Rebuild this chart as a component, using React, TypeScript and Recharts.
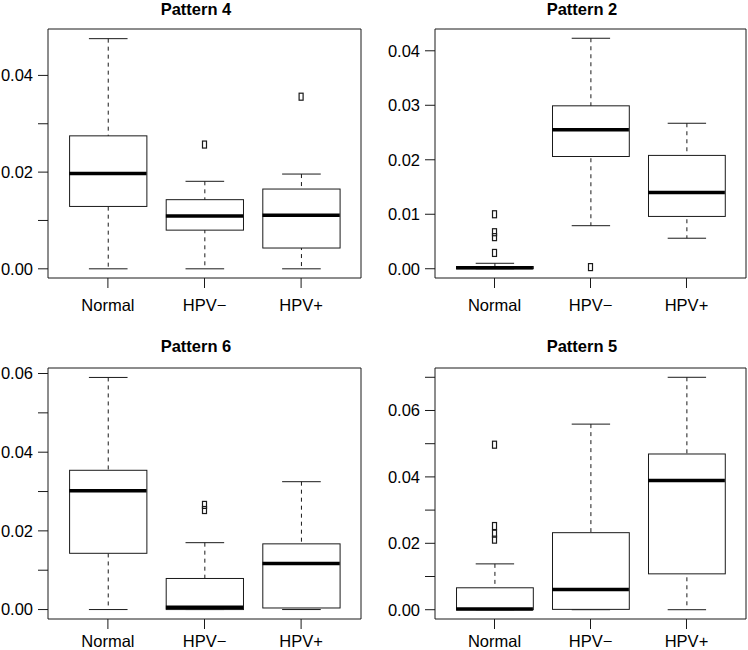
import React from "react";
import { ComposedChart, Bar, Scatter, XAxis, YAxis } from "recharts";

const groups = ["Normal", "HPV\u2212", "HPV+"];

// per group: [lower whisker, Q1, median, Q3, upper whisker]
const p4Stats = [
  [0, 0.0129, 0.0197, 0.0275, 0.0476],
  [0, 0.008, 0.0109, 0.0143, 0.0181],
  [0, 0.0043, 0.0111, 0.0165, 0.0196],
];
const p4Outliers = [[], [0.0257], [0.0356]];
const p4Ticks = [0, 0.01, 0.02, 0.03, 0.04];
const p4Labels = ["0.00", "", "0.02", "", "0.04"];
const p4Domain: [number, number] = [-0.0019, 0.0496];

const p2Stats = [
  [0, 0, 0.0002, 0.0004, 0.001],
  [0.0079, 0.0206, 0.0255, 0.0299, 0.0423],
  [0.0056, 0.0096, 0.014, 0.0208, 0.0267],
];
const p2Outliers = [[0.01, 0.0067, 0.0058, 0.0029], [0.0003], []];
const p2Ticks = [0, 0.01, 0.02, 0.03, 0.04];
const p2Labels = ["0.00", "0.01", "0.02", "0.03", "0.04"];
const p2Domain: [number, number] = [-0.0017, 0.044];

const p6Stats = [
  [0, 0.0143, 0.0302, 0.0354, 0.059],
  [0, 0, 0.0006, 0.0079, 0.017],
  [0, 0.0004, 0.0117, 0.0167, 0.0325],
];
const p6Outliers = [[], [0.0266, 0.0253], []];
const p6Ticks = [0, 0.01, 0.02, 0.03, 0.04, 0.05, 0.06];
const p6Labels = ["0.00", "", "0.02", "", "0.04", "", "0.06"];
const p6Domain: [number, number] = [-0.0024, 0.0614];

const p5Stats = [
  [0, 0, 0.0002, 0.0066, 0.0138],
  [0, 0.0001, 0.0061, 0.0232, 0.0559],
  [0, 0.0108, 0.0389, 0.0469, 0.07],
];
const p5Outliers = [[0.0497, 0.0252, 0.0229, 0.0211], [], []];
const p5Ticks = [0, 0.01, 0.02, 0.03, 0.04, 0.05, 0.06, 0.07];
const p5Labels = ["0.00", "", "0.02", "", "0.04", "", "0.06", ""];
const p5Domain: [number, number] = [-0.0028, 0.0728];

const FONT = "'Liberation Sans', Arial, Helvetica, sans-serif";
const INK = "#1a1a1a";
const OUT_KEYS = ["o0", "o1", "o2", "o3"];

type Row = { name: string; [k: string]: any };

function buildRows(stats: number[][], outliers: number[][]): Row[] {
  return groups.map((name, i) => {
    const [lo, q1, med, q3, hi] = stats[i];
    const row: Row = { name, lo, q1, med, q3, hi };
    outliers[i].forEach((v, j) => {
      row[OUT_KEYS[j]] = v;
    });
    return row;
  });
}

const WhiskerShape = (props: any) => {
  const { x, y, width, height } = props;
  const top = height < 0 ? y + height : y;
  const h = Math.abs(height);
  const cx = x + width / 2;
  const cap = width / 4;
  return (
    <g stroke={INK} strokeWidth={1}>
      <line x1={cx} x2={cx} y1={top} y2={top + h} strokeDasharray="4 4" />
      <line x1={cx - cap} x2={cx + cap} y1={top} y2={top} />
      <line x1={cx - cap} x2={cx + cap} y1={top + h} y2={top + h} />
    </g>
  );
};

const BoxShape = (props: any) => {
  const { x, y, width, height } = props;
  const top = height < 0 ? y + height : y;
  return <rect x={x} y={top} width={width} height={Math.abs(height)} fill="#fff" stroke={INK} strokeWidth={1} />;
};

const medianShape = (half: number) => (props: any) => {
  const { cx, cy } = props;
  if (typeof cy !== "number" || isNaN(cy)) return <g />;
  return <line x1={cx - half} x2={cx + half} y1={cy} y2={cy} stroke="#000" strokeWidth={3.5} />;
};

const OutlierShape = (props: any) => {
  const { cx, cy } = props;
  if (typeof cy !== "number" || isNaN(cy)) return <g />;
  return <rect x={cx - 2} y={cy - 3.5} width={4} height={7} fill="none" stroke={INK} strokeWidth={1.2} />;
};

type PanelProps = {
  title: string;
  rows: Row[];
  ticks: number[];
  labels: string[];
  domain: [number, number];
  left: number;
  top: number;
  yWidth: number;
  marginTop: number;
  marginRight: number;
  xHeight: number;
  xTickMargin: number;
  titleX: number;
  titleTop: number;
};

const W = 374;
const H = 325;

function Panel(p: PanelProps) {
  const plotW = W - p.yWidth - p.marginRight;
  const unit = plotW / 3.24;
  const pad = unit * 0.12;
  const boxW = unit * 0.8;
  const tickStyle = { fontSize: 16.5, fill: "#000", fontFamily: FONT };
  return (
    <div style={{ position: "absolute", left: p.left, top: p.top, width: W, height: H }}>
      <div
        style={{
          position: "absolute",
          left: p.titleX - 100,
          width: 200,
          top: p.titleTop,
          textAlign: "center",
          fontFamily: FONT,
          fontWeight: "bold",
          fontSize: 16.5,
          lineHeight: "normal",
          color: "#000",
        }}
      >
        {p.title}
      </div>
      <ComposedChart
        width={W}
        height={H}
        data={p.rows}
        margin={{ top: p.marginTop - 1, right: p.marginRight - 1, bottom: 0, left: 0 }}
      >
        <XAxis
          xAxisId="b"
          dataKey="name"
          height={p.xHeight}
          padding={{ left: pad, right: pad }}
          interval={0}
          tickSize={10}
          tickMargin={p.xTickMargin}
          tick={tickStyle}
          axisLine={{ stroke: INK }}
          tickLine={{ stroke: INK }}
        />
        <XAxis
          xAxisId="w"
          dataKey="name"
          orientation="top"
          height={1}
          padding={{ left: pad, right: pad }}
          tick={false}
          tickLine={false}
          axisLine={{ stroke: INK }}
        />
        <YAxis
          type="number"
          domain={p.domain}
          allowDataOverflow
          ticks={p.ticks}
          interval={0}
          width={p.yWidth}
          tickSize={10}
          tickMargin={5}
          tick={tickStyle}
          tickFormatter={(v: number) => p.labels[p.ticks.indexOf(v)] ?? ""}
          axisLine={{ stroke: INK }}
          tickLine={{ stroke: INK }}
        />
        <YAxis
          yAxisId="r"
          orientation="right"
          type="number"
          domain={p.domain}
          allowDataOverflow
          width={1}
          tick={false}
          tickLine={false}
          axisLine={{ stroke: INK }}
        />
        <Bar
          xAxisId="w"
          yAxisId="r"
          dataKey={(d: Row) => [d.lo, d.hi]}
          barSize={boxW}
          shape={WhiskerShape}
          isAnimationActive={false}
        />
        <Bar
          xAxisId="b"
          dataKey={(d: Row) => [d.q1, d.q3]}
          barSize={boxW}
          shape={BoxShape}
          isAnimationActive={false}
        />
        <Scatter xAxisId="b" dataKey="med" shape={medianShape(boxW / 2)} isAnimationActive={false} />
        {OUT_KEYS.map((k) => (
          <Scatter key={k} xAxisId="b" dataKey={k} shape={OutlierShape} isAnimationActive={false} />
        ))}
      </ComposedChart>
    </div>
  );
}

export default function App() {
  return (
    <div style={{ position: "absolute", left: 0, top: 0, width: 748, height: 650, background: "#fff", overflow: "hidden" }}>
      <Panel
        title="Pattern 4"
        rows={buildRows(p4Stats, p4Outliers)}
        ticks={p4Ticks}
        labels={p4Labels}
        domain={p4Domain}
        left={0}
        top={0}
        yWidth={48}
        marginTop={29}
        marginRight={13}
        xHeight={47}
        xTickMargin={11}
        titleX={196}
        titleTop={0}
      />
      <Panel
        title="Pattern 2"
        rows={buildRows(p2Stats, p2Outliers)}
        ticks={p2Ticks}
        labels={p2Labels}
        domain={p2Domain}
        left={374}
        top={0}
        yWidth={61}
        marginTop={29}
        marginRight={2}
        xHeight={47}
        xTickMargin={11}
        titleX={208}
        titleTop={0}
      />
      <Panel
        title="Pattern 6"
        rows={buildRows(p6Stats, p6Outliers)}
        ticks={p6Ticks}
        labels={p6Labels}
        domain={p6Domain}
        left={0}
        top={325}
        yWidth={48}
        marginTop={43}
        marginRight={13}
        xHeight={31}
        xTickMargin={6}
        titleX={196}
        titleTop={12}
      />
      <Panel
        title="Pattern 5"
        rows={buildRows(p5Stats, p5Outliers)}
        ticks={p5Ticks}
        labels={p5Labels}
        domain={p5Domain}
        left={374}
        top={325}
        yWidth={61}
        marginTop={43}
        marginRight={2}
        xHeight={31}
        xTickMargin={6}
        titleX={208}
        titleTop={12}
      />
    </div>
  );
}
